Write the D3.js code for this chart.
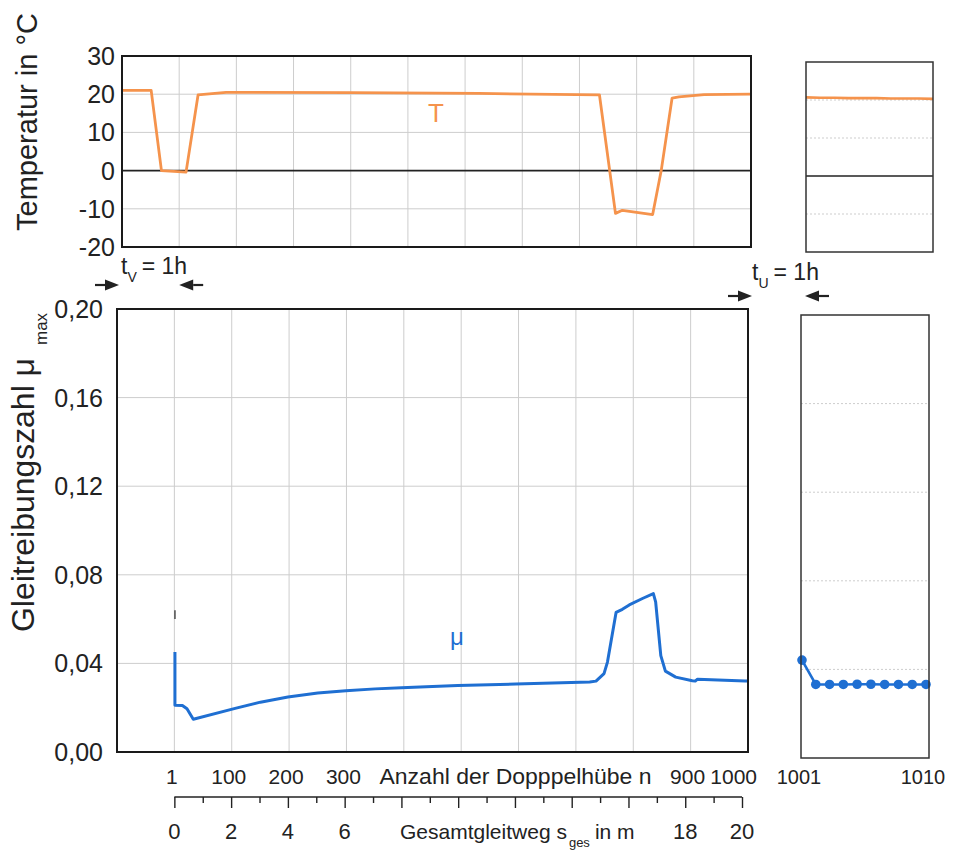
<!DOCTYPE html>
<html>
<head>
<meta charset="utf-8" />
<title>Gleitreibungszahl und Temperatur</title>
<style>
* {
    padding: 0;
    margin: 0;
}
body {
    background: #fff;
}
#graph {
    width: 953px;
    height: 851px;
}
svg {
    font-family: "Liberation Sans", Arial, sans-serif;
}
</style>
</head>
<body>
<div id="graph"></div>
<script src="https://cdn.jsdelivr.net/npm/d3@7/dist/d3.min.js"></script>
<script>
    // Temperatur, Hauptversuch (n < 0 = Vorlauf t_V)
    var tempN = [-100, -49, -31, 12, 33, 82, 300, 524, 735, 763, 775, 828, 843, 862, 874, 918, 1000]
    var tempT = [21, 21, 0, -0.4, 19.8, 20.5, 20.4, 20.2, 19.8, -11.2, -10.4, -11.5, 0, 19, 19.3, 19.9, 20]
    // Temperatur nach der Unterbrechung t_U
    var tempRightN = [1001, 1002, 1003, 1004, 1005, 1006, 1007, 1008, 1009, 1010]
    var tempRightT = [20.7, 20.6, 20.6, 20.5, 20.5, 20.5, 20.4, 20.4, 20.4, 20.3]

    // Gleitreibungszahl mu_max
    var muN = [1, 1, 14, 22, 33, 106, 150, 198, 250, 299, 350, 396, 450, 494, 595, 724, 735, 749, 755, 770, 781, 793, 816, 835, 839, 848, 856, 874, 903, 908, 912, 995, 1000]
    var muV = [0.0452, 0.0211, 0.0210, 0.0195, 0.0148, 0.0197, 0.0225, 0.0248, 0.0266, 0.0277, 0.0285, 0.0290, 0.0296, 0.0300, 0.0307, 0.0316, 0.0320, 0.0354, 0.0406, 0.0630, 0.0644, 0.0664, 0.0693, 0.0715, 0.0678, 0.0435, 0.0365, 0.0338, 0.0322, 0.0320, 0.0329, 0.0321, 0.0320]
    var muRightN = [1001, 1002, 1003, 1004, 1005, 1006, 1007, 1008, 1009, 1010]
    var muRightV = [0.0442, 0.0332, 0.0332, 0.0332, 0.0333, 0.0333, 0.0332, 0.0332, 0.0332, 0.0332]
    // kleiner Strich ueber dem Anfangswert
    var markN = [1, 1]
    var markV = [0.0600, 0.0640]

    var tempTicks = [30, 20, 10, 0, -10, -20]
    var tempGrid = [20, 10, -10]
    var muTicks = [0.20, 0.16, 0.12, 0.08, 0.04, 0.00]
    var muGrid = [0.04, 0.08, 0.12, 0.16]
    var nGrid = [0, 100, 200, 300, 400, 500, 600, 700, 800, 900]
    var nLabels = [1, 100, 200, 300, 900, 1000]
    var nRightLabels = [1001, 1010]
    var sLabels = [0, 2, 4, 6, 18, 20]

    var width = 953, height = 851
    var svg = d3.select("#graph").append("svg")
        .attr("width", width).attr("height", height)

    var orange = "#f5934c", blue = "#1f6fd2", gridColor = "#cdcdcd"

    // Skalen
    var xTop = d3.scaleLinear().domain([-100, 1000]).range([122, 751])
    var xBot = d3.scaleLinear().domain([-100, 1000]).range([117, 748])
    var yT = d3.scaleLinear().domain([-20, 30]).range([247, 56])
    var yMu = d3.scaleLinear().domain([0, 0.2]).range([752, 309])
    var xTopR = d3.scaleLinear().domain([1001, 1010]).range([806, 933])
    var yTR = d3.scaleLinear().domain([-20, 30]).range([252, 62])
    var xBotR = d3.scaleLinear().domain([1001, 1010]).range([802, 926])
    var yMuR = d3.scaleLinear().domain([0, 0.2]).range([758, 315])
    var sScale = d3.scaleLinear().domain([0, 20]).range([xBot(0), xBot(1000) - 6])

    // ---------- Temperatur oben ----------
    var gT = svg.append("g")
    gT.selectAll(".vg").data(nGrid).enter().append("line")
        .attr("x1", function(d) { return xTop(d) }).attr("x2", function(d) { return xTop(d) })
        .attr("y1", yT(30)).attr("y2", yT(-20))
        .attr("stroke", gridColor).attr("stroke-width", 1)
    gT.selectAll(".hg").data(tempGrid).enter().append("line")
        .attr("x1", xTop(-100)).attr("x2", xTop(1000))
        .attr("y1", function(d) { return yT(d) }).attr("y2", function(d) { return yT(d) })
        .attr("stroke", gridColor).attr("stroke-width", 1)
    gT.append("line")
        .attr("x1", xTop(-100)).attr("x2", xTop(1000))
        .attr("y1", yT(0)).attr("y2", yT(0))
        .attr("stroke", "#222").attr("stroke-width", 1.6)

    var lineT = d3.line()
        .x(function(d) { return xTop(d[0]) })
        .y(function(d) { return yT(d[1]) })
    gT.append("path")
        .datum(d3.zip(tempN, tempT))
        .attr("d", lineT)
        .attr("fill", "none").attr("stroke", orange).attr("stroke-width", 2.8)
        .attr("stroke-linejoin", "round")

    gT.append("rect")
        .attr("x", xTop(-100)).attr("y", yT(30))
        .attr("width", xTop(1000) - xTop(-100)).attr("height", yT(-20) - yT(30))
        .attr("fill", "none").attr("stroke", "#1a1a1a").attr("stroke-width", 2)

    gT.selectAll(".tl").data(tempTicks).enter().append("text")
        .attr("x", xTop(-100) - 7).attr("y", function(d) { return yT(d) })
        .attr("dy", "0.36em").attr("text-anchor", "end")
        .attr("font-size", 25).attr("fill", "#222")
        .text(function(d) { return d })

    gT.append("text")
        .attr("x", 436).attr("y", 122).attr("text-anchor", "middle")
        .attr("font-size", 26).attr("fill", orange).text("T")

    gT.append("text")
        .attr("transform", "translate(37,231) rotate(-90)")
        .attr("font-size", 29).attr("fill", "#222")
        .attr("textLength", 218).attr("lengthAdjust", "spacingAndGlyphs")
        .text("Temperatur in °C")

    // Temperatur rechts
    var gTR = svg.append("g")
    gTR.selectAll(".hg").data(tempGrid).enter().append("line")
        .attr("x1", xTopR(1001)).attr("x2", xTopR(1010))
        .attr("y1", function(d) { return yTR(d) }).attr("y2", function(d) { return yTR(d) })
        .attr("stroke", gridColor).attr("stroke-width", 1).attr("stroke-dasharray", "2,2")
    gTR.append("line")
        .attr("x1", xTopR(1001)).attr("x2", xTopR(1010))
        .attr("y1", yTR(0)).attr("y2", yTR(0))
        .attr("stroke", "#222").attr("stroke-width", 1.4)
    gTR.append("path")
        .datum(d3.zip(tempRightN, tempRightT))
        .attr("d", d3.line().x(function(d) { return xTopR(d[0]) }).y(function(d) { return yTR(d[1]) }))
        .attr("fill", "none").attr("stroke", orange).attr("stroke-width", 2.6)
    gTR.append("rect")
        .attr("x", xTopR(1001)).attr("y", yTR(30))
        .attr("width", xTopR(1010) - xTopR(1001)).attr("height", yTR(-20) - yTR(30))
        .attr("fill", "none").attr("stroke", "#333").attr("stroke-width", 1.5)

    // ---------- Gleitreibungszahl unten ----------
    var gM = svg.append("g")
    gM.selectAll(".vg").data(nGrid).enter().append("line")
        .attr("x1", function(d) { return xBot(d) }).attr("x2", function(d) { return xBot(d) })
        .attr("y1", yMu(0.2)).attr("y2", yMu(0))
        .attr("stroke", gridColor).attr("stroke-width", 1)
    gM.selectAll(".hg").data(muGrid).enter().append("line")
        .attr("x1", xBot(-100)).attr("x2", xBot(1000))
        .attr("y1", function(d) { return yMu(d) }).attr("y2", function(d) { return yMu(d) })
        .attr("stroke", gridColor).attr("stroke-width", 1)

    gM.append("path")
        .datum(d3.zip(markN, markV))
        .attr("d", d3.line().x(function(d) { return xBot(d[0]) }).y(function(d) { return yMu(d[1]) }))
        .attr("stroke", "#555").attr("stroke-width", 1.6)

    var lineMu = d3.line()
        .x(function(d) { return xBot(d[0]) })
        .y(function(d) { return yMu(d[1]) })
    gM.append("path")
        .datum(d3.zip(muN, muV))
        .attr("d", lineMu)
        .attr("fill", "none").attr("stroke", blue).attr("stroke-width", 3)
        .attr("stroke-linejoin", "round")

    gM.append("rect")
        .attr("x", xBot(-100)).attr("y", yMu(0.2))
        .attr("width", xBot(1000) - xBot(-100)).attr("height", yMu(0) - yMu(0.2))
        .attr("fill", "none").attr("stroke", "#1a1a1a").attr("stroke-width", 2)

    gM.selectAll(".tl").data(muTicks).enter().append("text")
        .attr("x", xBot(-100) - 14).attr("y", function(d) { return yMu(d) })
        .attr("dy", "0.36em").attr("text-anchor", "end")
        .attr("font-size", 25).attr("fill", "#222")
        .text(function(d) { return d3.format(".2f")(d).replace(".", ",") })

    gM.append("text")
        .attr("x", 457).attr("y", 645).attr("text-anchor", "middle")
        .attr("font-size", 24).attr("fill", blue).text("μ")

    var muLabel = gM.append("text")
        .attr("transform", "translate(34,632) rotate(-90)")
        .attr("font-size", 31).attr("fill", "#222")
    muLabel.append("tspan")
        .attr("textLength", 274).attr("lengthAdjust", "spacingAndGlyphs")
        .text("Gleitreibungszahl μ")
    muLabel.append("tspan").attr("dx", 13).attr("dy", 13).attr("font-size", 17).text("max")

    // mu rechts
    var gMR = svg.append("g")
    gMR.selectAll(".hg").data(muGrid).enter().append("line")
        .attr("x1", 801).attr("x2", 929)
        .attr("y1", function(d) { return yMuR(d) }).attr("y2", function(d) { return yMuR(d) })
        .attr("stroke", gridColor).attr("stroke-width", 1).attr("stroke-dasharray", "2,2")
    gMR.append("path")
        .datum(d3.zip(muRightN, muRightV))
        .attr("d", d3.line().x(function(d) { return xBotR(d[0]) }).y(function(d) { return yMuR(d[1]) }))
        .attr("fill", "none").attr("stroke", blue).attr("stroke-width", 2.6)
    gMR.selectAll("circle").data(d3.zip(muRightN, muRightV)).enter().append("circle")
        .attr("cx", function(d) { return xBotR(d[0]) })
        .attr("cy", function(d) { return yMuR(d[1]) })
        .attr("r", 4.8).attr("fill", blue)
    gMR.append("rect")
        .attr("x", 801).attr("y", yMuR(0.2))
        .attr("width", 128).attr("height", yMuR(0) - yMuR(0.2))
        .attr("fill", "none").attr("stroke", "#333").attr("stroke-width", 1.5)

    // ---------- x-Achsen ----------
    var gX = svg.append("g").attr("font-size", 22).attr("fill", "#222")
    gX.selectAll(".nl").data(nLabels).enter().append("text")
        .attr("x", function(d) { return d === 1000 ? xBot(d) + 9 : xBot(d) - 3 }).attr("y", 784)
        .attr("text-anchor", function(d) { return d === 1000 ? "end" : "middle" })
        .attr("font-size", 21)
        .text(function(d) { return d })
    gX.selectAll(".nr").data(nRightLabels).enter().append("text")
        .attr("x", function(d) { return xBotR(d) - 3 }).attr("y", 784)
        .attr("text-anchor", "middle").attr("font-size", 20)
        .text(function(d) { return d })
    gX.append("text")
        .attr("x", xBot(600) - 3).attr("y", 784).attr("text-anchor", "middle")
        .attr("textLength", 272).attr("lengthAdjust", "spacingAndGlyphs")
        .text("Anzahl der Dopppelhübe n")

    // Gesamtgleitweg-Achse
    var sAxis = d3.axisBottom(sScale)
        .ticks(20).tickSize(6).tickFormat("")
    var gS = svg.append("g").attr("transform", "translate(0,797)").call(sAxis)
    gS.select(".domain").attr("d", "M" + sScale(0) + ",0H" + sScale(20))
        .attr("stroke", "#222").attr("stroke-width", 1.6)
    gS.selectAll(".tick line")
        .attr("stroke", "#222").attr("stroke-width", 1.4)
        .attr("y2", function(d) { return d % 2 === 0 ? 11 : 6 })

    gX.selectAll(".sl").data(sLabels).enter().append("text")
        .attr("x", function(d) { return sScale(d) }).attr("y", 839)
        .attr("text-anchor", "middle")
        .text(function(d) { return d })
    var sText = gX.append("text").attr("x", 400).attr("y", 839).attr("font-size", 21)
    sText.append("tspan").text("Gesamtgleitweg s")
    sText.append("tspan").attr("dy", 8).attr("dx", 2).attr("font-size", 13).text("ges")
    sText.append("tspan").attr("dy", -8).attr("dx", 5).text("in m")

    // ---------- Zeitmarken t_V, t_U ----------
    function arrow(g, tip, y, dir) {
        // dir = 1: Pfeil nach rechts, -1: nach links
        var headLen = 14, shaft = 10, hw = 5.5
        g.append("line")
            .attr("x1", tip - dir * headLen).attr("x2", tip - dir * (headLen + shaft))
            .attr("y1", y).attr("y2", y)
            .attr("stroke", "#222").attr("stroke-width", 2.2)
        g.append("path")
            .attr("d", "M" + tip + "," + y + "L" + (tip - dir * headLen) + "," + (y - hw) +
                "L" + (tip - dir * headLen) + "," + (y + hw) + "Z")
            .attr("fill", "#222")
    }
    var gA = svg.append("g")
    arrow(gA, xTop(-100) - 3, 285, 1)
    arrow(gA, xTop(0), 285, -1)
    arrow(gA, xTop(1000) + 1, 296, 1)
    arrow(gA, xTopR(1001) - 1, 296, -1)

    var tv = gA.append("text").attr("x", 121).attr("y", 274).attr("font-size", 23).attr("fill", "#222")
    tv.append("tspan").text("t")
    tv.append("tspan").attr("dy", 8).attr("font-size", 14).text("V")
    tv.append("tspan").attr("dy", -8).attr("dx", 5).text("= 1h")

    var tu = gA.append("text").attr("x", 752).attr("y", 280).attr("font-size", 23).attr("fill", "#222")
    tu.append("tspan").text("t")
    tu.append("tspan").attr("dy", 8).attr("font-size", 14).text("U")
    tu.append("tspan").attr("dy", -8).attr("dx", 5).text("= 1h")
</script>
</body>
</html>
